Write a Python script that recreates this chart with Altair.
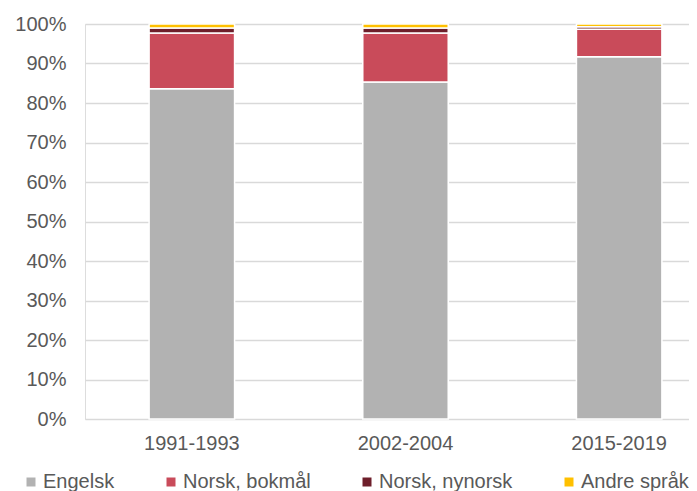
import altair as alt
import pandas as pd

periods = ["1991-1993", "2002-2004", "2015-2019"]
languages = ["Engelsk", "Norsk, bokmål", "Norsk, nynorsk", "Andre språk"]
engelsk = [83.6, 85.3, 91.7]
bokmal = [14.1, 12.4, 7.0]
nynorsk = [1.3, 1.3, 0.6]
andre = [1.0, 1.0, 0.7]
colors = ["#b2b2b2", "#c94b5a", "#6e1f2b", "#ffc000"]
y_ticks = [0, 10, 20, 30, 40, 50, 60, 70, 80, 90, 100]

series = [engelsk, bokmal, nynorsk, andre]
rows = []
for li, (lang, vals) in enumerate(zip(languages, series)):
    for p, v in zip(periods, vals):
        rows.append({"Periode": p, "Språk": lang, "Andel": v, "idx": li})
df = pd.DataFrame(rows)

FONT = "Liberation Sans"
TXT = "#595959"

chart = alt.Chart(df).mark_bar(stroke="white", strokeWidth=1.5).encode(
    x=alt.X(
        "Periode:N",
        sort=periods,
        title=None,
        scale=alt.Scale(paddingInner=0.6, paddingOuter=0.3),
        axis=alt.Axis(labelAngle=0, labelPadding=14, ticks=False, domain=False,
                      labelFontSize=20, labelColor=TXT, labelFont=FONT),
    ),
    y=alt.Y(
        "Andel:Q",
        stack="zero",
        title=None,
        scale=alt.Scale(domain=[0, 100], nice=False),
        axis=alt.Axis(values=y_ticks, labelExpr="datum.value + '%'", ticks=False,
                      domain=False, labelPadding=19, labelFontSize=20,
                      labelColor=TXT, labelFont=FONT, gridColor="#d9d9d9",
                      gridWidth=1.5),
    ),
    color=alt.Color(
        "Språk:N",
        sort=languages,
        scale=alt.Scale(domain=languages, range=colors),
        legend=alt.Legend(
            title=None, orient="none", direction="horizontal",
            legendX=-64, legendY=448, padding=0,
            symbolType="square", symbolSize=81, symbolStrokeWidth=0,
            labelFontSize=20, labelColor=TXT, labelFont=FONT,
            labelOffset=2, columnPadding=46, labelLimit=300,
        ),
    ),
    order=alt.Order("idx:Q", sort="ascending"),
).properties(
    width=641,
    height=395,
    autosize=alt.AutoSizeParams(type="none"),
    padding={"left": 77, "top": 16, "right": -37, "bottom": 72},
).configure_view(stroke=None).configure(font=FONT)

chart.save("out.html", embed_options={"renderer": "svg", "actions": False})
